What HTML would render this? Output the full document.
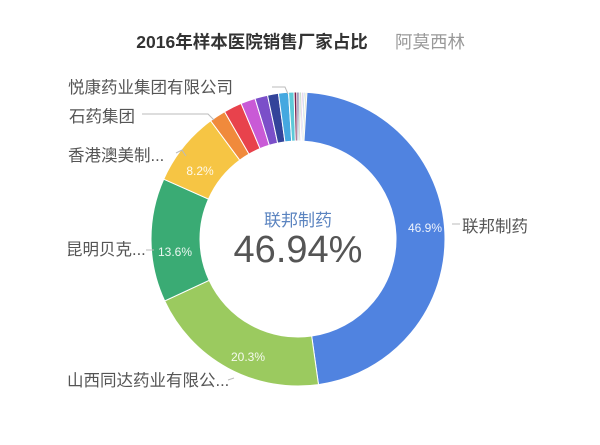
<!DOCTYPE html>
<html><head><meta charset="utf-8"><style>
html,body{margin:0;padding:0;background:#fff;width:600px;height:445px;overflow:hidden}
svg text{font-family:"Liberation Sans","Noto Sans CJK SC",sans-serif}
</style></head><body>
<svg id="s" width="600" height="445" viewBox="0 0 600 445">
<text x="252" y="48" text-anchor="middle" font-size="17.5" font-weight="bold" fill="#333">2016年样本医院销售厂家占比</text>
<text x="395" y="48" font-size="17.5" fill="#999">阿莫西林</text>
<g id="ring"></g>
<g fill="none" stroke="#bbb" stroke-width="1">
<path d="M272 87 L285 87 L288 94"/>
<path d="M142 114 L208 114 L214 120"/>
<path d="M176 153 L182 150 L186 156"/>
<path d="M146 250 L154 250"/>
<path d="M228 380 L234 378"/>
<path d="M452 224 L460 224"/>
</g>
<g font-size="16.5" fill="#555">
<text x="68" y="93">悦康药业集团有限公司</text>
<text x="69" y="122">石药集团</text>
<text x="68" y="161">香港澳美制...</text>
<text x="66" y="255">昆明贝克...</text>
<text x="67" y="386">山西同达药业有限公...</text>
<text x="462" y="232">联邦制药</text>
</g>
<g font-size="12" fill="#fff" fill-opacity="0.9" text-anchor="middle">
<text x="425" y="232">46.9%</text>
<text x="248" y="361">20.3%</text>
<text x="175" y="256">13.6%</text>
<text x="200" y="175">8.2%</text>
</g>
<text x="298" y="226" text-anchor="middle" font-size="17" fill="#5b84c0">联邦制药</text>
<text x="298" y="262" text-anchor="middle" font-size="38" fill="#555">46.94%</text>
</svg>
<script>
var cx=298,cy=239,R=147,r=98,off=3;
var d=[[46.94,'#5083e0'],[20.3,'#9bca5f'],[13.6,'#3aab74'],[8.2,'#f6c544'],[1.8,'#f08a3c'],[2.0,'#e8424c'],[1.6,'#c95ad6'],[1.4,'#7b4fc9'],[1.2,'#33449a'],[1.1,'#45a8e0'],[0.6,'#5ec9d8'],[0.3,'#7b1f4a'],[0.25,'#6b6b9b'],[0.25,'#c0d8c0'],[0.2,'#d7b8e0'],[0.2,'#b8d0e8'],[0.2,'#e0e0c0']];
var g=document.getElementById('ring'),a=off,h='';
function p(ang,rad){var t=(ang-90)*Math.PI/180;return (cx+rad*Math.cos(t)).toFixed(2)+' '+(cy+rad*Math.sin(t)).toFixed(2);}
d.forEach(function(s){var b=a+s[0]*3.6,l=(b-a)>180?1:0;
h+='<path d="M'+p(a,R)+' A'+R+' '+R+' 0 '+l+' 1 '+p(b,R)+' L'+p(b,r)+' A'+r+' '+r+' 0 '+l+' 0 '+p(a,r)+' Z" fill="'+s[1]+'" stroke="#fff" stroke-width="1"/>';a=b;});
g.innerHTML=h;
</script>
</body></html>
